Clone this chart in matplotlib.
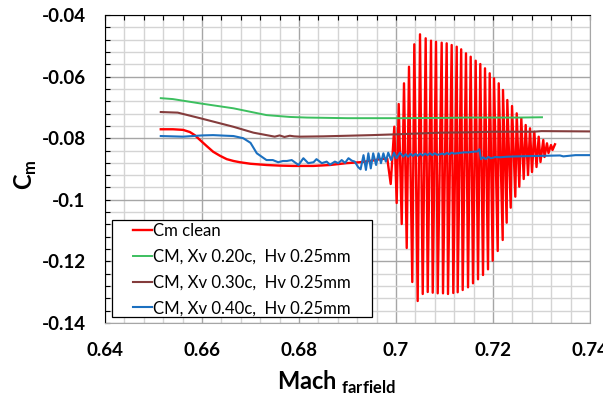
import numpy as np
import matplotlib
matplotlib.use('Agg')
import matplotlib.pyplot as plt
from matplotlib.ticker import MultipleLocator, FuncFormatter
from matplotlib.patches import Rectangle
from matplotlib.transforms import Bbox, TransformedBbox

plt.rcParams['font.family'] = ['Lato', 'DejaVu Sans']
plt.rcParams['axes.unicode_minus'] = False
plt.rcParams['mathtext.fontset'] = 'custom'
plt.rcParams['mathtext.rm'] = 'Lato'
plt.rcParams['mathtext.bf'] = 'Lato:bold'

# Cm clean, smooth part before the buffet
mach_clean = [0.6515, 0.6540, 0.6561, 0.6575, 0.6585, 0.6596, 0.6610, 0.6623, 0.6637,
              0.6651, 0.6665, 0.6678, 0.6700, 0.6733, 0.6760, 0.6788, 0.6830, 0.6864,
              0.6898, 0.6926, 0.6950, 0.6967, 0.6982]
cm_clean = [-0.0771, -0.0771, -0.0773, -0.0780, -0.0790, -0.0806, -0.0826, -0.0844, -0.0857,
            -0.0868, -0.0874, -0.0878, -0.0883, -0.0887, -0.0889, -0.0890, -0.0890, -0.0887,
            -0.0881, -0.0878, -0.0873, -0.0868, -0.0866]
# Cm clean, buffet oscillation extremes
mach_peak = [0.69965, 0.70056, 0.70165, 0.70268, 0.70377, 0.70495, 0.70612, 0.70722, 0.70825,
             0.70942, 0.71045, 0.71148, 0.71252, 0.71344, 0.71443, 0.71540, 0.71643, 0.71738,
             0.71835, 0.71932, 0.72021, 0.72118, 0.72206, 0.72295, 0.72392, 0.72489, 0.72584,
             0.72674, 0.72763, 0.72852, 0.72942, 0.73037, 0.73113, 0.73196, 0.73278]
cm_peak = [-0.07627, -0.06890, -0.06218, -0.05679, -0.04951, -0.04627, -0.04756, -0.04834,
           -0.04867, -0.04899, -0.04919, -0.04974, -0.05029, -0.05114, -0.05244, -0.05354,
           -0.05484, -0.05591, -0.05731, -0.05893, -0.06055, -0.06218, -0.06435, -0.06760,
           -0.06955, -0.07192, -0.07354, -0.07571, -0.07679, -0.07789, -0.07951, -0.08058,
           -0.08166, -0.08221, -0.08198]
mach_trough = [0.69891, 0.70014, 0.70118, 0.70221, 0.70336, 0.70447, 0.70551, 0.70654, 0.70757,
               0.70860, 0.70969, 0.71072, 0.71181, 0.71272, 0.71375, 0.71485, 0.71588, 0.71691,
               0.71794, 0.71897, 0.71994, 0.72097, 0.72200, 0.72282, 0.72365, 0.72460, 0.72542,
               0.72633, 0.72722, 0.72804, 0.72897, 0.72979, 0.73062, 0.73144, 0.73227]
cm_trough = [-0.09487, -0.10104, -0.10786, -0.11565, -0.12669, -0.13286, -0.13058, -0.12994,
             -0.13016, -0.13036, -0.13036, -0.13058, -0.13026, -0.13003, -0.12929, -0.12841,
             -0.12711, -0.12581, -0.12442, -0.12257, -0.11977, -0.11662, -0.11305, -0.10744,
             -0.10256, -0.09899, -0.09575, -0.09325, -0.09195, -0.09097, -0.08935, -0.08773,
             -0.08610, -0.08481, -0.08383]

# CM, Xv 0.20c
mach_20 = [0.6515, 0.6540, 0.6596, 0.6665, 0.6733, 0.6781, 0.6816, 0.6900, 0.7008, 0.7100,
           0.7146, 0.7250, 0.7301]
cm_20 = [-0.0670, -0.0673, -0.0687, -0.0703, -0.0725, -0.0731, -0.0733, -0.0735, -0.0735,
         -0.0734, -0.0733, -0.0733, -0.0732]

# CM, Xv 0.30c
mach_30 = [0.6515, 0.6550, 0.6596, 0.6665, 0.6706, 0.6733, 0.6750, 0.6760, 0.6770, 0.6781,
           0.6790, 0.6802, 0.6850, 0.6900, 0.6950, 0.7008, 0.7091, 0.7146, 0.7200, 0.7283,
           0.7300, 0.7400]
cm_30 = [-0.0715, -0.0717, -0.0735, -0.0763, -0.0782, -0.0790, -0.0795, -0.0791, -0.0796,
         -0.0792, -0.0794, -0.0795, -0.0794, -0.0792, -0.0790, -0.0787, -0.0782, -0.0781,
         -0.0779, -0.0779, -0.0777, -0.0778]

# CM, Xv 0.40c
mach_40 = [0.6515, 0.6561, 0.6600, 0.6623, 0.6650, 0.6665, 0.6685, 0.6700, 0.6713, 0.6733,
           0.6746, 0.6757, 0.6767, 0.6775, 0.6785, 0.6799, 0.6809, 0.6819, 0.6830, 0.6836,
           0.6847, 0.6857, 0.6864, 0.6874, 0.6881, 0.6888, 0.6895, 0.6902, 0.6909, 0.6915,
           0.6922, 0.6927, 0.6933, 0.6938, 0.6943, 0.6948, 0.6953, 0.6959, 0.6964, 0.6969,
           0.6974, 0.6979, 0.6984, 0.6990, 0.6996, 0.7001, 0.7008, 0.7015, 0.7020, 0.7025,
           0.7030, 0.7035, 0.7040, 0.7045, 0.7050, 0.7055, 0.7060, 0.7065, 0.7070, 0.7075,
           0.7080, 0.7085, 0.7091, 0.7095, 0.7100, 0.7105, 0.7110, 0.7115, 0.7120, 0.7130,
           0.7140, 0.7150, 0.7159, 0.7168, 0.7172, 0.7175, 0.7180, 0.7185, 0.7190, 0.7196,
           0.7205, 0.7215, 0.7230, 0.7250, 0.7280, 0.7310, 0.7338, 0.7345, 0.7370, 0.7400]
cm_40 = [-0.0793, -0.0795, -0.0791, -0.0790, -0.0792, -0.0793, -0.0800, -0.0815, -0.0849,
         -0.0871, -0.0871, -0.0878, -0.0874, -0.0874, -0.0871, -0.0887, -0.0865, -0.0881,
         -0.0878, -0.0868, -0.0881, -0.0876, -0.0886, -0.0876, -0.0881, -0.0871, -0.0880,
         -0.0865, -0.0873, -0.0876, -0.0894, -0.0901, -0.0855, -0.0903, -0.0849, -0.0898,
         -0.0849, -0.0887, -0.0849, -0.0881, -0.0849, -0.0876, -0.0847, -0.0871, -0.0847,
         -0.0865, -0.0847, -0.0860, -0.0852, -0.0860, -0.0851, -0.0858, -0.0851, -0.0857,
         -0.0850, -0.0856, -0.0850, -0.0855, -0.0849, -0.0855, -0.0849, -0.0854, -0.0852,
         -0.0850, -0.0853, -0.0848, -0.0852, -0.0847, -0.0850, -0.0848, -0.0846, -0.0846,
         -0.0844, -0.0843, -0.0836, -0.0868, -0.0862, -0.0868, -0.0861, -0.0865, -0.0861,
         -0.0862, -0.0860, -0.0859, -0.0858, -0.0857, -0.0856, -0.0859, -0.0855, -0.0855]

# join the smooth part with the oscillation extremes, ordered by Mach
m_red = np.concatenate([mach_clean, mach_peak, mach_trough])
c_red = np.concatenate([cm_clean, cm_peak, cm_trough])
order = np.argsort(m_red)
m_red, c_red = m_red[order], c_red[order]

W, H = 616, 401
fig = plt.figure(figsize=(W / 100, H / 100), dpi=100)
ax = fig.add_axes([105/W, 1 - 323/H, 485/W, 308/H])

ax.plot(m_red, c_red, color='#ff0000', lw=1.7, label='Cm clean', zorder=3)
ax.plot(mach_20, cm_20, color='#3cbf5f', lw=1.4, label='CM, Xv 0.20c,  Hv 0.25mm', zorder=4)
ax.plot(mach_30, cm_30, color='#843c3c', lw=1.5, label='CM, Xv 0.30c,  Hv 0.25mm', zorder=4)
ax.plot(mach_40, cm_40, color='#1b70c0', lw=1.5, label='CM, Xv 0.40c,  Hv 0.25mm', zorder=4)

ax.set_xlim(0.64, 0.74)
ax.set_ylim(-0.14, -0.04)
ax.xaxis.set_major_locator(MultipleLocator(0.02))
ax.xaxis.set_minor_locator(MultipleLocator(0.004))
ax.yaxis.set_major_locator(MultipleLocator(0.02))
ax.yaxis.set_minor_locator(MultipleLocator(0.004))
fmt = FuncFormatter(lambda v, _: f'{round(v, 4):g}')
ax.xaxis.set_major_formatter(fmt)
ax.yaxis.set_major_formatter(fmt)

ax.grid(which='major', color='#a6a6a6', lw=1.0, zorder=0)
ax.grid(which='minor', color='#d4d4d4', lw=1.0, zorder=0)
ax.set_axisbelow(True)

# x axis sits at the top (crosses at Cm = 0), labels kept low
ax.tick_params(axis='x', which='both', bottom=False, top=True, labelbottom=True,
               labeltop=False, direction='in', length=3.6, width=0.8, pad=14)
ax.tick_params(axis='y', which='both', left=True, right=False, direction='in',
               length=3.6, width=0.8, pad=14)
clip = TransformedBbox(Bbox([[0, 0], [603 / W, 1]]), fig.transFigure)
for lab in ax.get_xticklabels() + ax.get_yticklabels():
    lab.set_fontweight('bold')
    lab.set_fontsize(13.5)
for lab in ax.get_xticklabels():
    lab.set_clip_box(clip)
    lab.set_clip_on(True)

ax.spines['top'].set_color('black')
ax.spines['left'].set_color('black')
ax.spines['bottom'].set_color('#a6a6a6')
ax.spines['right'].set_color('#a6a6a6')

ax.set_xlabel(r'$\mathbf{Mach}_{\ \mathbf{farfield}}$', fontsize=17)
ax.xaxis.set_label_coords((336 - 105) / 485, -(369 - 323) / 308)
ax.set_ylabel(r'$\mathbf{C}_{\mathbf{m}}$', fontsize=17)
ax.yaxis.set_label_coords(-(105 - 39) / 485, (323 - 175) / 308)

# legend box
ax.add_patch(Rectangle((112/W, 1 - 317/H), 260/W, 97/H, transform=fig.transFigure,
                       facecolor='white', edgecolor='black', lw=0.9, zorder=5,
                       clip_on=False))
leg = ax.legend(loc='upper left', bbox_to_anchor=(133/W, 1 - 223/H),
                bbox_transform=fig.transFigure, borderaxespad=0, fontsize=12.1,
                frameon=False, handlelength=1.15, handletextpad=0.05,
                labelspacing=0.58, borderpad=0)
leg.set_zorder(6)

fig.savefig('out.png', dpi=100)
